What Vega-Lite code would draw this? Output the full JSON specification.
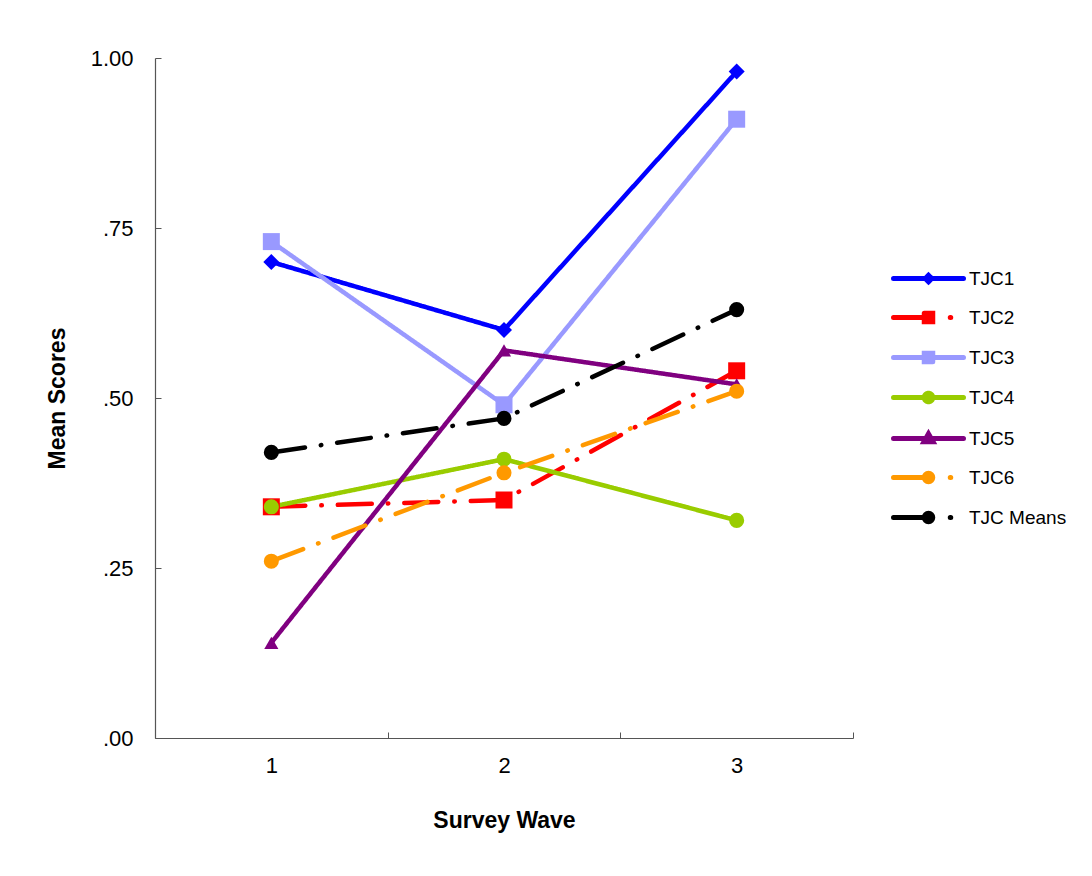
{
  "$schema": "https://vega.github.io/schema/vega-lite/v6.json",
  "width": 698,
  "height": 680,
  "autosize": "none",
  "padding": {"left": 155, "top": 58, "right": 239, "bottom": 138},
  "background": "white",
  "config": {"font": "Liberation Sans", "view": {"stroke": null}},
  "data": {
    "values": [
      {"series": "TJC1", "wave": 1, "value": 0.70},
      {"series": "TJC1", "wave": 2, "value": 0.60},
      {"series": "TJC1", "wave": 3, "value": 0.98},
      {"series": "TJC2", "wave": 1, "value": 0.34},
      {"series": "TJC2", "wave": 2, "value": 0.35},
      {"series": "TJC2", "wave": 3, "value": 0.54},
      {"series": "TJC3", "wave": 1, "value": 0.73},
      {"series": "TJC3", "wave": 2, "value": 0.49},
      {"series": "TJC3", "wave": 3, "value": 0.91},
      {"series": "TJC4", "wave": 1, "value": 0.34},
      {"series": "TJC4", "wave": 2, "value": 0.41},
      {"series": "TJC4", "wave": 3, "value": 0.32},
      {"series": "TJC5", "wave": 1, "value": 0.14},
      {"series": "TJC5", "wave": 2, "value": 0.57},
      {"series": "TJC5", "wave": 3, "value": 0.52},
      {"series": "TJC6", "wave": 1, "value": 0.26},
      {"series": "TJC6", "wave": 2, "value": 0.39},
      {"series": "TJC6", "wave": 3, "value": 0.51},
      {"series": "TJC Means", "wave": 1, "value": 0.42},
      {"series": "TJC Means", "wave": 2, "value": 0.47},
      {"series": "TJC Means", "wave": 3, "value": 0.63}
    ]
  },
  "encoding": {
    "y": {
      "field": "value", "type": "quantitative",
      "scale": {"domain": [0, 1], "nice": false, "zero": true},
      "axis": {"values": [0, 0.25, 0.5, 0.75, 1],
        "labelExpr": "datum.value == 1 ? '1.00' : replace(format(datum.value, '.2f'), '0.', '.')",
        "tickSize": -6, "tickColor": "#555555", "grid": false,
        "labelFontSize": 22, "labelPadding": 28, "labelColor": "black",
        "domainColor": "#555555", "domainWidth": 1.2,
        "title": "Mean Scores", "titleFontSize": 23, "titleFontWeight": "bold", "titleColor": "black", "titlePadding": 21}
    }
  },
  "layer": [
    {
      "mark": {"type": "line", "strokeWidth": 4.5, "strokeCap": "round", "strokeJoin": "round"},
      "encoding": {
        "x": {
          "field": "wave", "type": "quantitative",
          "scale": {"domain": [0.5, 3.5], "nice": false, "zero": false},
          "axis": {"orient": "bottom", "values": [1, 2, 3], "ticks": false, "format": "d", "grid": false,
            "labelFontSize": 22, "labelPadding": 17, "labelColor": "black",
            "domainColor": "#555555", "domainWidth": 1.2,
            "title": "Survey Wave", "titleFontSize": 23, "titleFontWeight": "bold", "titleColor": "black", "titlePadding": 33}
        },
        "color": {
          "field": "series", "type": "nominal",
          "scale": {"domain": ["TJC1", "TJC2", "TJC3", "TJC4", "TJC5", "TJC6", "TJC Means"],
            "range": ["#0000FF", "#FF0000", "#9999FF", "#99CC00", "#800080", "#FF9900", "#000000"]},
          "legend": {
            "title": null, "orient": "none", "legendX": 764, "legendY": 211,
            "labelFontSize": 19, "labelColor": "black", "labelOffset": 31, "rowPadding": 11,
            "symbolSize": 100, "symbolStrokeWidth": 5,
            "encoding": {
              "symbols": {
                "shape": {"value": {"expr": "datum.value == 'TJC1' ? 'M-7,0H7M0,-0.65L0.65,0L0,0.65L-0.65,0Z' : datum.value == 'TJC2' ? 'M-7,0H0M-0.85,-0.85H0.85V0.85H-0.85ZM4.35,0H4.45' : datum.value == 'TJC3' ? 'M-7,0H7M-0.85,-0.85H0.85V0.85H-0.85Z' : datum.value == 'TJC4' ? 'M-7,0H7M0.85,0A0.85,0.85,0,1,1,-0.85,0A0.85,0.85,0,1,1,0.85,0Z' : datum.value == 'TJC5' ? 'M-7,0H7M0,-0.95L0.9,0.65L-0.9,0.65Z' : 'M-7,0H0M0.85,0A0.85,0.85,0,1,1,-0.85,0A0.85,0.85,0,1,1,0.85,0ZM4.35,0H4.45'"}},
                "fill": {"value": {"expr": "scale('color', datum.value)"}},
                "stroke": {"value": {"expr": "scale('color', datum.value)"}},
                "strokeDash": {"value": []},
                "strokeWidth": {"value": 5},
                "strokeCap": {"value": "round"},
                "size": {"value": 100},
                "opacity": {"value": 1}
              }
            }
          }
        },
        "strokeDash": {
          "field": "series", "type": "nominal",
          "scale": {"domain": ["TJC1", "TJC2", "TJC3", "TJC4", "TJC5", "TJC6", "TJC Means"],
            "range": [[1, 0], [34, 16, 0.5, 16], [1, 0], [1, 0], [1, 0], [34, 16, 0.5, 16], [34, 16, 0.5, 16]]},
          "legend": null
        }
      }
    },
    {
      "transform": [{"filter": "datum.series == 'TJC1'"}],
      "mark": {"type": "point", "shape": "diamond", "size": 256, "filled": true, "opacity": 1, "fill": "#0000FF"},
      "encoding": {
        "x": {
          "field": "wave", "type": "quantitative",
          "axis": {"orient": "bottom", "values": [0.5, 1.5, 2.5, 3.5], "labels": false, "domain": false, "grid": false,
            "tickSize": -6, "tickColor": "#555555", "title": null}
        }
      }
    },
    {
      "transform": [{"filter": "datum.series == 'TJC2'"}],
      "mark": {"type": "point", "shape": "square", "size": 289, "filled": true, "opacity": 1, "fill": "#FF0000"},
      "encoding": {"x": {"field": "wave", "type": "quantitative", "axis": null}}
    },
    {
      "transform": [{"filter": "datum.series == 'TJC3'"}],
      "mark": {"type": "point", "shape": "square", "size": 289, "filled": true, "opacity": 1, "fill": "#9999FF"},
      "encoding": {"x": {"field": "wave", "type": "quantitative", "axis": null}}
    },
    {
      "transform": [{"filter": "datum.series == 'TJC4'"}],
      "mark": {"type": "point", "shape": "circle", "size": 227, "filled": true, "opacity": 1, "fill": "#99CC00"},
      "encoding": {"x": {"field": "wave", "type": "quantitative", "axis": null}}
    },
    {
      "transform": [{"filter": "datum.series == 'TJC5'"}],
      "mark": {"type": "point", "shape": "triangle-up", "size": 200, "filled": true, "opacity": 1, "fill": "#800080"},
      "encoding": {"x": {"field": "wave", "type": "quantitative", "axis": null}}
    },
    {
      "transform": [{"filter": "datum.series == 'TJC6'"}],
      "mark": {"type": "point", "shape": "circle", "size": 227, "filled": true, "opacity": 1, "fill": "#FF9900"},
      "encoding": {"x": {"field": "wave", "type": "quantitative", "axis": null}}
    },
    {
      "transform": [{"filter": "datum.series == 'TJC Means'"}],
      "mark": {"type": "point", "shape": "circle", "size": 227, "filled": true, "opacity": 1, "fill": "#000000"},
      "encoding": {"x": {"field": "wave", "type": "quantitative", "axis": null}}
    }
  ],
  "resolve": {"axis": {"x": "independent"}}
}
